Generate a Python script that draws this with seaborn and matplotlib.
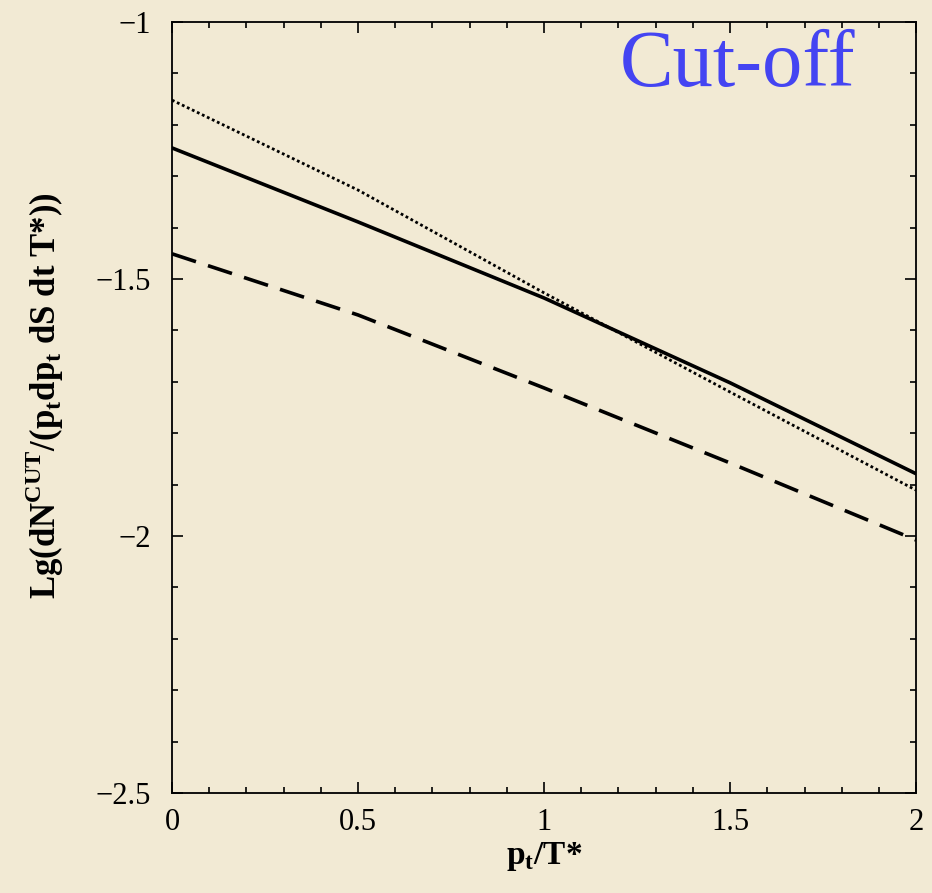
import pandas as pd
import matplotlib
matplotlib.use('Agg')
import matplotlib.pyplot as plt
import seaborn as sns
from matplotlib.ticker import MultipleLocator

# valores
pt = [0.0, 0.5, 1.0, 1.5, 2.0]
solida = [-1.245, -1.389, -1.537, -1.702, -1.879]
pontilhada = [-1.152, -1.327, -1.527, -1.720, -1.911]
tracejada = [-1.451, -1.570, -1.712, -1.858, -2.008]

sns.set_style('ticks')
plt.rcParams['font.family'] = ['Liberation Serif', 'DejaVu Serif']
plt.rcParams['mathtext.fontset'] = 'custom'
plt.rcParams['mathtext.rm'] = 'Liberation Serif'
plt.rcParams['mathtext.bf'] = 'Liberation Serif:bold'
plt.rcParams['text.color'] = 'black'
plt.rcParams['axes.labelcolor'] = 'black'
plt.rcParams['xtick.labelcolor'] = 'black'
plt.rcParams['ytick.labelcolor'] = 'black'

fundo = '#F2EAD4'
fig = plt.figure(figsize=(9.32, 8.93), dpi=100, facecolor=fundo)
ax = fig.add_axes([0.1845, 0.112, 0.7985, 0.8634])
ax.set_facecolor(fundo)

df = pd.DataFrame({'pt': pt, 'solida': solida, 'pontilhada': pontilhada, 'tracejada': tracejada})

sns.lineplot(data=df, x='pt', y='solida', ax=ax, color='black', linewidth=2.6)
sns.lineplot(data=df, x='pt', y='pontilhada', ax=ax, color='black', linewidth=2.0,
             linestyle=(0, (1, 1)))
sns.lineplot(data=df, x='pt', y='tracejada', ax=ax, color='black', linewidth=2.6,
             linestyle=(0, (7, 3.5)))

ax.set_xlim(0, 2)
ax.set_ylim(-2.5, -1)
ax.xaxis.set_major_locator(MultipleLocator(0.5))
ax.xaxis.set_minor_locator(MultipleLocator(0.1))
ax.yaxis.set_major_locator(MultipleLocator(0.5))
ax.yaxis.set_minor_locator(MultipleLocator(0.1))
ax.set_xticks([0, 0.5, 1, 1.5, 2], ['0', '0.5', '1', '1.5', '2'])
ax.set_yticks([-2.5, -2, -1.5, -1], ['\u22122.5', '\u22122', '\u22121.5', '\u22121'])
ax.tick_params(which='both', direction='in', top=True, right=True, labelsize=22,
               width=1.2, color='black', labelcolor='black')
ax.tick_params(which='major', length=8)
ax.tick_params(which='minor', length=4)
ax.tick_params(axis='x', pad=11)
ax.tick_params(axis='y', pad=15)
for s in ax.spines.values():
    s.set_linewidth(1.3)
    s.set_color('black')

ax.set_xlabel(r'p$_{\mathbf{t}}$/T*', fontsize=24, fontweight='bold', labelpad=2)
ax.set_ylabel(r'Lg(dN$^{\mathbf{CUT}}$/(p$_{\mathbf{t}}$dp$_{\mathbf{t}}$ dS dt T*))',
              fontsize=25, fontweight='bold')
ax.yaxis.set_label_coords(-0.142, 0.515)

ax.text(0.918, 0.99, 'Cut-off', transform=ax.transAxes, ha='right', va='top',
        fontsize=58, color='#4444F2', family='Liberation Serif')

fig.savefig('out.png', dpi=100, facecolor=fundo)
